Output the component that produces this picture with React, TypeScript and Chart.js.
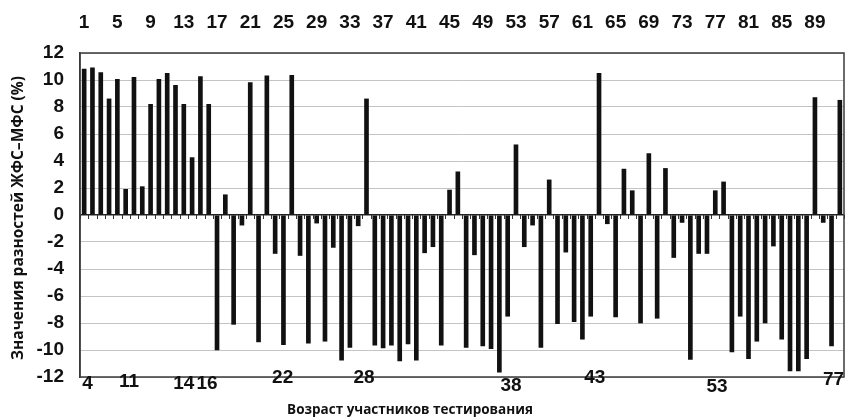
import React, { useEffect, useRef } from 'react';
import { Chart, registerables } from 'chart.js';

Chart.register(...registerables);

const categories = [
  '1', '2', '3', '4', '5', '6', '7', '8', '9', '10', '11', '12', '13', '14', '15', '16',
  '17', '18', '19', '20', '21', '22', '23', '24', '25', '26', '27', '28', '29', '30', '31', '32',
  '33', '34', '35', '36', '37', '38', '39', '40', '41', '42', '43', '44', '45', '46', '47', '48',
  '49', '50', '51', '52', '53', '54', '55', '56', '57', '58', '59', '60', '61', '62', '63', '64',
  '65', '66', '67', '68', '69', '70', '71', '72', '73', '74', '75', '76', '77', '78', '79', '80',
  '81', '82', '83', '84', '85', '86', '87', '88', '89', '90', '91', '92',
];

const differences = [
  10.8, 10.9, 10.55, 8.6, 10.05, 1.9, 10.2, 2.1, 8.2, 10.05, 10.5, 9.6, 8.2, 4.25, 10.25, 8.2,
  -10.0, 1.5, -8.1, -0.75, 9.8, -9.4, 10.3, -2.85, -9.6, 10.35, -3.0, -9.5, -0.6, -9.35, -2.4, -10.75,
  -9.8, -0.8, 8.6, -9.65, -9.85, -9.65, -10.8, -9.55, -10.75, -2.8, -2.35, -9.65, 1.85, 3.2, -9.8, -2.95,
  -9.7, -9.9, -11.65, -7.5, 5.2, -2.35, -0.75, -9.8, 2.6, -8.05, -2.75, -7.9, -9.2, -7.5, 10.5, -0.65,
  -7.55, 3.4, 1.8, -8.0, 4.55, -7.65, 3.45, -3.15, -0.55, -10.7, -2.85, -2.85, 1.8, 2.45, -10.15, -7.5,
  -10.65, -9.35, -8.0, -2.3, -9.2, -11.55, -11.55, -10.65, 8.7, -0.55, -9.7, 8.5,
];

const yMin = -12;
const yMax = 12;
const yStep = 2;

const ageLabels = ['4', '11', '14', '16', '22', '28', '38', '43', '53', '77'];
const ageLabelBars = [1.42, 6.41, 13.0, 15.8, 24.9, 34.7, 52.4, 62.5, 77.2, 91.25];

const yTitle = 'Значения разностей ЖФС–МФС (%)';
const xTitle = 'Возраст участников тестирования';

export default function App() {
  const ref = useRef<HTMLCanvasElement>(null);

  useEffect(() => {
    if (!ref.current) return;
    const ageRowY = [384, 382, 384, 384, 378, 378, 386, 378, 387, 380];

    const extras = {
      id: 'extras',
      afterDraw(chart: any) {
        const { ctx, chartArea, scales } = chart;
        const { left, right, top, bottom } = chartArea;
        const x = scales.x;
        const y = scales.y;
        ctx.save();
        // frame
        ctx.strokeStyle = '#3a3a3a';
        ctx.lineWidth = 1.5;
        ctx.strokeRect(left, top, right - left, bottom - top);
        // zero line ticks
        const zy = y.getPixelForValue(0);
        const step = (right - left) / categories.length;
        ctx.lineWidth = 1;
        ctx.strokeStyle = '#333';
        for (let i = 0; i <= categories.length; i++) {
          const px = Math.round(left + i * step) + 0.5;
          ctx.beginPath();
          ctx.moveTo(px, zy);
          ctx.lineTo(px, zy + 4);
          ctx.stroke();
        }
        // age labels
        ctx.fillStyle = '#111';
        ctx.font = 'bold 19px "Liberation Sans", Arial, sans-serif';
        ctx.textAlign = 'center';
        ctx.textBaseline = 'middle';
        ageLabels.forEach((t, i) => {
          const px = x.getPixelForValue(ageLabelBars[i] - 1);
          ctx.fillText(t, px, ageRowY[i]);
        });
        // titles
        ctx.font = 'bold 13.5px "Open Sans", sans-serif';
        ctx.fillText(xTitle, 410, 410);
        ctx.font = 'bold 15.5px "Open Sans", sans-serif';
        ctx.translate(19, 218);
        ctx.rotate(-Math.PI / 2);
        ctx.fillText(yTitle, 0, 0);
        ctx.restore();
      },
    };

    const chart = new Chart(ref.current, {
      type: 'bar',
      data: {
        labels: categories,
        datasets: [
          {
            data: differences,
            backgroundColor: '#111',
            borderWidth: 0,
            barThickness: 4,
          },
        ],
      },
      options: {
        responsive: false,
        animation: false,
        layout: { padding: { left: 0, right: 2, top: 0, bottom: 42 } },
        plugins: {
          legend: { display: false },
          tooltip: { enabled: false },
        },
        scales: {
          x: {
            position: 'top',
            offset: true,
            grid: { display: false, drawTicks: false },
            border: { display: false },
            ticks: {
              autoSkip: false,
              maxRotation: 0,
              minRotation: 0,
              padding: 19,
              color: '#111',
              font: { family: '"Liberation Sans", Arial, sans-serif', size: 19, weight: 'bold' },
              callback: (_v: any, idx: number) => (idx % 4 === 0 ? categories[idx] : ''),
            },
            afterFit: (s: any) => {
              s.height = 53;
              s.paddingLeft = 0;
              s.paddingRight = 0;
            },
          },
          y: {
            min: yMin,
            max: yMax,
            grid: {
              drawTicks: false,
              color: (c: any) => (c.tick && c.tick.value === 0 ? '#222' : '#c4c4c4'),
              lineWidth: (c: any) => (c.tick && c.tick.value === 0 ? 1.5 : 1),
            },
            border: { display: true, color: '#3a3a3a', width: 1.5 },
            ticks: {
              stepSize: yStep,
              padding: 16,
              color: '#111',
              font: { family: '"Liberation Sans", Arial, sans-serif', size: 19, weight: 'bold' },
            },
            afterFit: (s: any) => {
              s.width = 80;
            },
          },
        },
      },
      plugins: [extras],
    });

    return () => chart.destroy();
  }, []);

  return (
    <div style={{ position: 'absolute', left: 0, top: 0, width: 846, height: 419, background: '#fff' }}>
      <canvas ref={ref} width={846} height={419} />
    </div>
  );
}
